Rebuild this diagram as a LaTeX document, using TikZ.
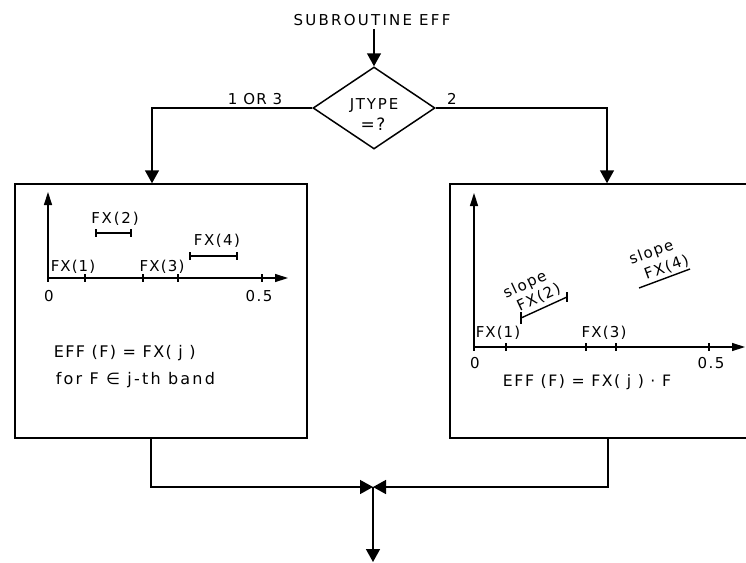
\documentclass[tikz,border=0pt]{standalone}
\usepackage{fontspec}
\setmainfont{DejaVu Sans}[LetterSpace=10]
\usetikzlibrary{arrows.meta,shapes.geometric}
\begin{document}
\begin{tikzpicture}[x=1pt,y=-1pt,line width=1.5pt,
  flow/.style={-{Triangle[width=14pt,length=13pt]}},
  axisline/.style={-{Triangle[width=8pt,length=13pt]},line width=1.4pt},
  lbl/.style={font=\fontsize{15}{17}\selectfont,inner sep=0pt},
  ls/.style={font=\fontsize{15}{17}\selectfont\addfontfeature{LetterSpace=#1},inner sep=0pt},
  bigls/.style={font=\fontsize{16}{18}\selectfont\addfontfeature{LetterSpace=#1},inner sep=0pt},
  box/.style={draw,rectangle,inner sep=0pt},
  dec/.style={draw,diamond,aspect=1.5,inner sep=0pt,minimum width=122pt,minimum height=82pt},
  tick/.style={line width=1.4pt}]
\useasboundingbox (0,0) rectangle (746,562);
\clip (0,0) rectangle (746,562);
% title and decision
\node[ls=15] (title) at (372,20) {SUBROUTINE EFF};
\node[dec] (d) at (374,108) {};
\node[ls=12] (jt) at (374,106) {JTYPE};
\node[bigls=12,font=\fontsize{17}{19}\selectfont] (jq) at (373,124) {=?};
\draw[flow] (374,29) -- (d.north);
% boxes
\node[box,minimum width=292pt,minimum height=254pt] (lbox) at (161,311) {};
\node[box,minimum width=320pt,minimum height=254pt] (rbox) at (610,311) {};
\coordinate (lin) at (152,0);
\coordinate (rin) at (607,0);
\draw[flow] (d.west) -| (lin |- lbox.north);
\draw[flow] (d.east) -| (rin |- rbox.north);
\node[ls=8] (l13) at (255,99) {1 OR 3};
\node[lbl] (l2) at (452,99) {2};
% merge
\coordinate (m) at (373,487);
\coordinate (exit) at (373,562);
\coordinate (lout) at (151,0);
\coordinate (rout) at (608,0);
\draw[flow] (lout |- lbox.south) |- (m);
\draw[flow] (rout |- rbox.south) |- (m);
\draw[flow] (m) -- (exit);
% left box graph
\draw[axisline] (48,278) -- (48,192);
\draw[axisline] (48,278) -- (288,278);
\foreach \x in {48,85,143,178,262} \draw[tick] (\x,274) -- (\x,282);
\draw[tick] (96,233) -- (131,233);
\draw[tick] (96,229) -- (96,237);
\draw[tick] (131,229) -- (131,237);
\draw[tick] (190,256) -- (237,256);
\draw[tick] (190,252) -- (190,260);
\draw[tick] (237,252) -- (237,260);
\node[ls=7] (lfx1) at (73,267) {FX(1)};
\node[ls=12] (lfx2) at (115,219) {FX(2)};
\node[ls=8] (lfx3) at (162,267) {FX(3)};
\node[ls=10] (lfx4) at (217,241) {FX(4)};
\node[lbl] (l0) at (49,296) {0};
\node[lbl] (l05) at (259,296) {0.5};
\node[bigls=9,anchor=west] (lf1) at (53,353) {EFF (F) = FX( j )};
\node[bigls=14,anchor=west] (lf2) at (55,380) {for F ∈ j-th band};
% right box graph
\draw[axisline] (474,347) -- (474,193);
\draw[axisline] (474,347) -- (745,347);
\foreach \x in {474,506,586,616,709} \draw[tick] (\x,343) -- (\x,351);
\draw[tick] (521,318) -- (567,297);
\draw[tick] (521,312) -- (521,324);
\draw[tick] (567,292) -- (567,302);
\draw[tick] (639,288) -- (690,269);
\node[ls=7] (rfx1) at (498,333) {FX(1)};
\node[ls=8] (rfx3) at (604,333) {FX(3)};
\node[lbl] (r0) at (475,363) {0};
\node[lbl] (r05) at (711,363) {0.5};
\node[lbl,rotate=25,align=left,font=\fontsize{15}{17.5}\selectfont] (rs2) at (532,291) {slope\\\hspace*{7pt}FX(2)};
\node[lbl,rotate=20,align=left,font=\fontsize{15}{19.5}\selectfont] (rs4) at (659,260) {slope\\\hspace*{9pt}FX(4)};
\node[bigls=8,font=\fontsize{15.7}{18}\selectfont] (rf) at (587,382) {EFF (F) = FX( j ) · F};
\end{tikzpicture}
\end{document}
